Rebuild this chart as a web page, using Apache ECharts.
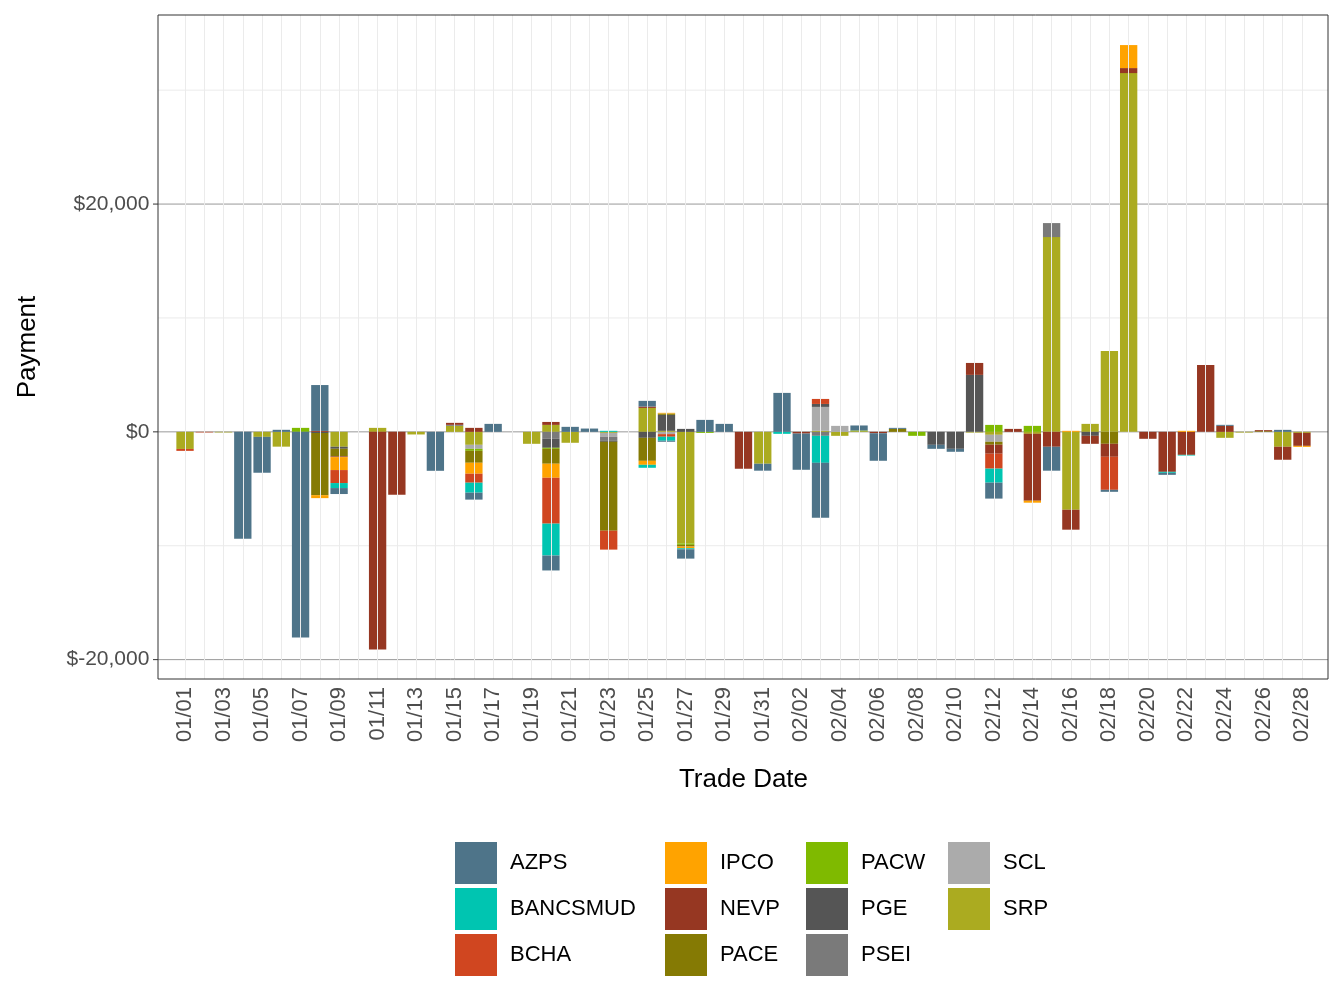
<!DOCTYPE html>
<html><head><meta charset="utf-8">
<script src="https://cdn.jsdelivr.net/npm/echarts@6/dist/echarts.min.js"></script>
<style>html,body{margin:0;padding:0;background:#fff}#c{width:1344px;height:1008px}</style>
</head><body><div id="c"></div>
<script>
const categories = [];
for (let m = 1; m <= 2; m++) { const n = m === 1 ? 31 : 28; for (let d = 1; d <= n; d++) categories.push('0' + m + '/' + (d < 10 ? '0' + d : d)); }
const yTickValues = [-20000, 0, 20000];
const yMinorValues = [-10000, 10000, 30000];

const AZPS = [0,0,0,-9380,-3150,180,-18050,4030,-525,0, 0,0,0,-3420,0,-610,700,0,0,-1310, 440,290,0,0,500,-90,-820,1050,700,0, -610,3420,-3180,-4820,0,440,-2420,90,0,-350, -260,0,-1400,0,0,-2100,0,0,-175,0, 0,-175,0,0,90,0,0,175,0];
const BANCSMUD = [0,0,0,0,0,0,0,0,-440,0, 0,0,0,0,0,-875,0,0,0,-2800, 0,0,90,0,-260,-350,-90,0,0,0, 0,-175,0,-2370,0,0,0,0,0,0, 0,0,-1230,0,0,0,0,0,0,0, 0,-90,-60,0,0,0,0,0,0];
const BCHA = [-170,-50,0,0,0,0,0,0,-1140,0, 0,0,0,0,0,-790,0,0,0,-4030, 0,0,-1660,0,0,-230,0,0,0,0, 0,0,0,440,0,0,0,0,0,0, 0,0,-1310,0,0,0,0,0,-2900,0, 0,0,0,0,0,0,0,0,0];
const IPCO = [0,0,0,0,0,0,0,-260,-1140,0, 0,0,0,0,0,-960,0,0,0,-1230, 0,0,0,0,-350,60,-150,0,0,0, 0,0,0,0,0,0,0,0,0,0, 0,0,0,0,-175,0,90,0,0,2020, 0,0,90,0,0,0,0,0,-90];
const NEVP = [0,0,0,0,0,0,0,80,-60,0, -19100,-5520,0,0,175,350,0,0,0,260, 0,0,0,0,120,0,0,0,0,-3240, 0,0,-150,0,0,0,-120,0,0,0, 0,1050,-790,260,-5870,-1310,-1750,-700,-1140,440, -610,-3510,-2020,5870,525,0,90,-1140,-1140];
const PACE = [0,0,0,0,0,0,0,-5460,-670,0, 0,0,0,0,0,-1050,0,0,0,-1310, 0,0,-7800,0,-2020,120,-150,0,0,0, 0,0,0,0,0,0,0,260,0,0, 0,0,-260,0,0,0,0,0,-1050,0, 0,0,0,0,0,0,60,0,0];
const PACW = [0,0,0,0,0,0,350,0,0,0, 0,0,0,0,0,-175,0,0,0,-90, 0,0,0,0,0,0,-120,-90,0,0, 0,0,0,0,0,60,0,0,-350,0, 0,0,610,0,525,0,0,0,0,0, 0,0,0,0,0,0,0,0,0];
const PGE = [0,0,0,0,0,0,0,-100,-175,0, 0,0,0,0,0,0,0,0,0,-790, 0,0,-90,0,-525,1400,260,0,0,0, 0,0,0,260,0,0,0,0,0,-1140, -1490,5000,0,0,0,0,0,-350,0,0, 0,0,0,0,0,0,0,0,0];
const PSEI = [0,0,0,0,0,0,0,0,0,0, 0,0,0,0,90,0,0,0,0,-610, 0,0,-350,0,0,0,0,0,0,0, 0,0,0,-350,0,0,0,0,0,0, 0,0,0,0,0,1230,0,0,0,0, 0,0,0,0,0,0,0,0,0];
const SCL = [0,0,0,0,0,0,0,0,0,0, 0,0,0,0,0,-350,0,0,0,0, 0,0,-350,0,0,-200,0,0,0,0, 0,0,0,2100,525,0,0,0,0,0, 0,0,-610,0,0,0,0,0,0,0, 0,0,0,0,0,0,0,0,0];
const SRP = [-1500,0,-50,0,-440,-1300,0,0,-1310,0, 350,0,-230,0,525,-1140,0,0,-1050,610, -960,0,-90,0,2100,90,-9800,0,0,0, -2800,0,0,90,-350,60,0,0,0,0, 0,-60,-260,0,-175,17100,-6840,700,7100,31500, 0,0,0,0,-525,-60,0,-1310,-90];

const seriesDefs = [
  ['AZPS', AZPS, '#4E7489'], ['BANCSMUD', BANCSMUD, '#00C5B1'], ['BCHA', BCHA, '#D04620'],
  ['IPCO', IPCO, '#FFA300'], ['NEVP', NEVP, '#963722'], ['PACE', PACE, '#857A04'],
  ['PACW', PACW, '#7FBA00'], ['PGE', PGE, '#555555'], ['PSEI', PSEI, '#7A7A7A'],
  ['SCL', SCL, '#ABABAB'], ['SRP', SRP, '#ABAB20']
];

const series = seriesDefs.slice().reverse().map(([name, data, color]) => ({
  name, type: 'bar', stack: 'all', data, barCategoryGap: '10%',
  itemStyle: { color }, emphasis: { disabled: true }, z: 3
}));
const vLines = categories.map((c) => ({ xAxis: c, lineStyle: { color: '#ebebeb', width: 1, type: 'solid' } }));
series.unshift({
  type: 'line', data: [], silent: true, z: 1,
  markLine: { silent: true, symbol: 'none', label: { show: false }, data: vLines }
});

const legends = [0, 1, 2, 3].map(col => ({
  orient: 'vertical', left: [455, 665, 806, 948][col], top: 842, padding: 0,
  itemWidth: 42, itemHeight: 42, itemGap: 4, icon: 'rect',
  data: seriesDefs.slice(col * 3, col * 3 + 3).map(s => s[0]),
  textStyle: { fontSize: 22, color: '#000', fontFamily: 'Liberation Sans', padding: [0, 0, 0, 8] },
  selectedMode: false
}));

const chart = echarts.init(document.getElementById('c'), null, { renderer: 'canvas' });
chart.setOption({
  animation: false,
  backgroundColor: '#fff',
  grid: { left: 175.4, right: 32.4, top: 15, bottom: 329, show: false },
  legend: legends,
  xAxis: {
    type: 'category', data: categories,
    name: 'Trade Date', nameLocation: 'middle', nameGap: 88,
    nameTextStyle: { fontSize: 26, color: '#000', fontFamily: 'Liberation Sans' },
    axisLine: { show: false },
    axisTick: { alignWithLabel: true, interval: 1, length: 5, lineStyle: { color: '#333' } },
    axisLabel: { interval: 1, rotate: 90, fontSize: 22, color: '#4d4d4d', fontFamily: 'Liberation Sans', margin: 8 },
    splitLine: { show: false }
  },
  yAxis: {
    type: 'value', min: -21700, max: 36600,
    name: 'Payment', nameLocation: 'middle', nameGap: 135, nameRotate: 90,
    nameTextStyle: { fontSize: 26, color: '#000', fontFamily: 'Liberation Sans' },
    axisLine: { show: false },
    axisTick: { show: false },
    axisLabel: { customValues: yTickValues, fontSize: 21, color: '#4d4d4d', fontFamily: 'Liberation Sans', margin: 26,
      formatter: v => '$' + (v < 0 ? '-' : '') + Math.abs(v).toLocaleString('en-US') },
    splitLine: { show: false }
  },
  series
});
// panel-wide horizontal gridlines, ticks and border, positioned via the y scale
const L = 158, R = 1328, T = 15, B = 679;
const g = [];
yMinorValues.forEach(v => { const y = chart.convertToPixel({ yAxisIndex: 0 }, v);
  g.push({ type: 'line', silent: true, z: 0, shape: { x1: L, y1: y, x2: R, y2: y }, style: { stroke: '#ebebeb', lineWidth: 1 } }); });
yTickValues.forEach(v => { const y = chart.convertToPixel({ yAxisIndex: 0 }, v);
  g.push({ type: 'line', silent: true, z: 2, shape: { x1: L, y1: y, x2: R, y2: y }, style: { stroke: '#999', lineWidth: 1 } });
  g.push({ type: 'line', silent: true, z: 2, shape: { x1: L - 5, y1: y, x2: L, y2: y }, style: { stroke: '#333', lineWidth: 1 } }); });
g.push({ type: 'rect', silent: true, z: 10, shape: { x: L, y: T, width: R - L, height: B - T }, style: { fill: 'none', stroke: '#333', lineWidth: 1 } });
chart.setOption({ graphic: g });
</script></body></html>
